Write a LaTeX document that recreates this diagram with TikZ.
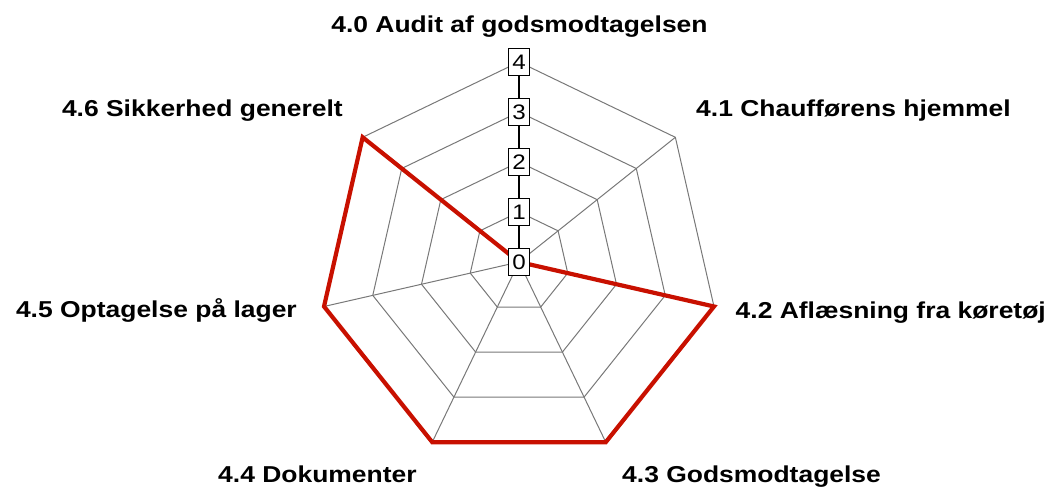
\documentclass[tikz,border=0pt]{standalone}
\usepackage{fontspec}
\setmainfont{Liberation Sans}[FakeStretch=1.15]
\usetikzlibrary{calc}
\definecolor{gridgray}{RGB}{120,120,120}
\definecolor{serie}{RGB}{200,16,0}
\tikzset{
  gridline/.style={draw=gridgray, line width=1pt},
  seriesline/.style={draw=serie, line width=4.2pt, line join=miter},
  axisline/.style={draw=black, line width=1.2pt},
  levelbox/.style={draw=black, fill=white, line width=1pt, minimum width=21pt,
    minimum height=27pt, inner sep=0pt, font=\fontsize{21pt}{23pt}\selectfont},
  axislabel/.style={inner sep=0pt, font=\fontsize{23pt}{27pt}\selectfont\bfseries},
}
\begin{document}
\begin{tikzpicture}[x=1pt,y=1pt]
\useasboundingbox (0,0) rectangle (1052,489);
\coordinate (C) at (519,227);
\foreach \k in {0,...,6}{
  \foreach \l [evaluate=\l as \r using \l*50] in {1,...,4}{
    \path (C) ++({90-\k*360/7}:\r pt) coordinate (v\k-\l);
  }
}
% grid rings
\foreach \l in {1,...,4}{
  \draw[gridline] (v0-\l) -- (v1-\l) -- (v2-\l) -- (v3-\l) -- (v4-\l) -- (v5-\l) -- (v6-\l) -- cycle;
}
% spokes
\foreach \k in {1,...,6}{
  \draw[gridline] (C) -- (v\k-4);
}
% data series
\draw[seriesline] (C) -- (v2-4) -- (v3-4) -- (v4-4) -- (v5-4) -- (v6-4) -- cycle;
% level boxes on the top axis
\foreach \l in {0,...,4}{
  \node[levelbox] (b\l) at ($(C)+(0,\l*50)$) {\l};
}
\draw[axisline] (b0) -- (b1);
\draw[axisline] (b1) -- (b2);
\draw[axisline] (b2) -- (b3);
\draw[axisline] (b3) -- (b4);
% axis labels
\node[axislabel, anchor=base] (l0) at (519.5,456) {4.0 Audit af godsmodtagelsen};
\node[axislabel, anchor=base west] (l1) at (696,372) {4.1 Chaufførens hjemmel};
\node[axislabel, anchor=base east] (l2) at (1046,170) {4.2 Aflæsning fra køretøj};
\node[axislabel, anchor=base west] (l3) at (622,6) {4.3 Godsmodtagelse};
\node[axislabel, anchor=base west] (l4) at (218,6) {4.4 Dokumenter};
\node[axislabel, anchor=base east] (l5) at (297,171) {4.5 Optagelse på lager};
\node[axislabel, anchor=base east] (l6) at (343,372) {4.6 Sikkerhed generelt};
\end{tikzpicture}
\end{document}
